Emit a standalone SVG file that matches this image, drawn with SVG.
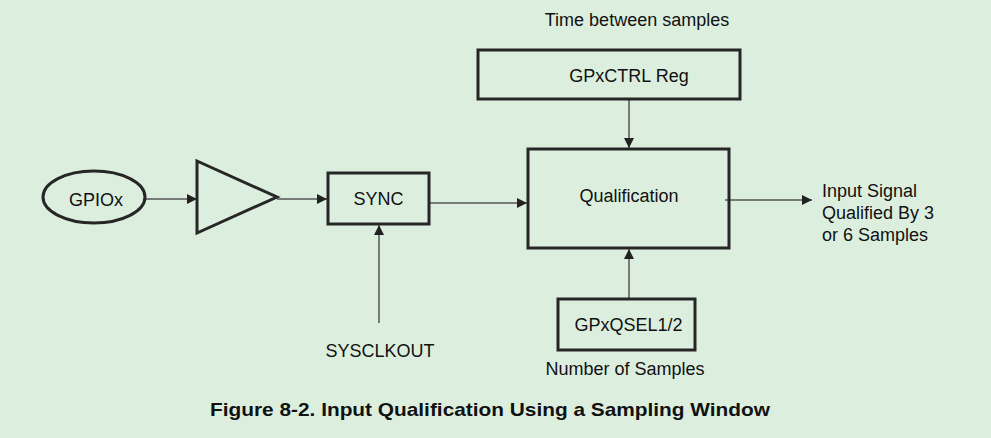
<svg xmlns="http://www.w3.org/2000/svg" width="991" height="438" viewBox="0 0 991 438">
<style>
.box{fill:none;stroke:#262626;stroke-width:3}
.ln{fill:none;stroke:#555;stroke-width:1.5}
.t{font-family:"Liberation Sans",Arial,sans-serif;font-size:18px;fill:#111}
.c{text-anchor:middle}
.cap{font-family:"Liberation Sans",Arial,sans-serif;font-size:19px;font-weight:bold;fill:#111}
</style>
<defs>
<marker id="ah" viewBox="0 0 10 10" refX="10" refY="5" markerWidth="10" markerHeight="10" markerUnits="userSpaceOnUse" orient="auto">
<path d="M0,0 L10,5 L0,10 Z" fill="#222"/>
</marker>
</defs>
<rect width="991" height="438" fill="#dcefdf"/>
<g id="connectors">
<line class="ln" x1="146" y1="199" x2="197" y2="199" marker-end="url(#ah)"/>
<line class="ln" x1="277" y1="199" x2="327" y2="199" marker-end="url(#ah)"/>
<line class="ln" x1="379" y1="323" x2="379" y2="225" marker-end="url(#ah)"/>
<line class="ln" x1="430" y1="203" x2="527" y2="203" marker-end="url(#ah)"/>
<line class="ln" x1="629" y1="100" x2="629" y2="148" marker-end="url(#ah)"/>
<line class="ln" x1="629" y1="298" x2="629" y2="249" marker-end="url(#ah)"/>
<line class="ln" x1="725" y1="200" x2="812" y2="200" marker-end="url(#ah)"/>
</g>
<g id="gpiox">
<ellipse class="box" cx="94" cy="197" rx="51" ry="26"/>
<text class="t c" x="96" y="206">GPIOx</text>
</g>
<g id="buffer">
<path class="box" d="M197,161 L277,197 L197,233 Z"/>
</g>
<g id="sync">
<rect class="box" x="328" y="173" width="101" height="51"/>
<text class="t c" x="378.5" y="205">SYNC</text>
</g>
<g id="sysclkout">
<text class="t c" x="380" y="357">SYSCLKOUT</text>
</g>
<g id="qualification">
<rect class="box" x="528" y="149" width="201" height="99"/>
<text class="t c" x="629" y="202">Qualification</text>
</g>
<g id="gpxctrl">
<text class="t c" x="637" y="26">Time between samples</text>
<rect class="box" x="478" y="50" width="262" height="49"/>
<text class="t c" x="629" y="82">GPxCTRL Reg</text>
</g>
<g id="gpxqsel">
<rect class="box" x="558" y="299" width="137" height="51"/>
<text class="t c" x="628.5" y="331">GPxQSEL1/2</text>
<text class="t c" x="625" y="375">Number of Samples</text>
</g>
<g id="output">
<text class="t" x="822" y="197">Input Signal</text>
<text class="t" x="822" y="219">Qualified By 3</text>
<text class="t" x="822" y="241">or 6 Samples</text>
</g>
<text class="cap" x="210" y="416" textLength="560" lengthAdjust="spacingAndGlyphs">Figure 8-2. Input Qualification Using a Sampling Window</text>
</svg>
